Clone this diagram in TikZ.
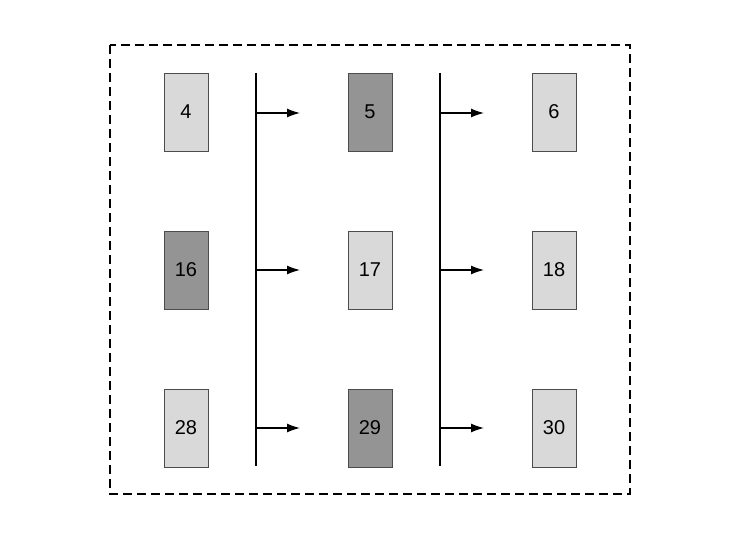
\documentclass[tikz,border=0pt]{standalone}
\usepackage{fontspec}
\setmainfont{Liberation Sans}
\usetikzlibrary{arrows.meta}
\begin{document}
\begin{tikzpicture}[x=1pt,y=-1pt,
  cell/.style={draw=black!70,line width=0.8pt,minimum width=44pt,minimum height=78pt,inner sep=0pt,font=\fontsize{20}{24}\selectfont},
  light/.style={cell,fill=black!15},
  dark/.style={cell,fill=black!42},
  arr/.style={-{Latex[length=13pt,width=9pt]},line width=1.3pt}]
\useasboundingbox (0,0) rectangle (740,540);
\draw[line width=1.5pt,dash pattern=on 9pt off 5pt] (110,45) rectangle (630,494);
\node[light] (n4) at (186,112) {4};
\node[dark] (n5) at (370,112) {5};
\node[light] (n6) at (554,112) {6};
\node[dark] (n16) at (186,270) {16};
\node[light] (n17) at (370,270) {17};
\node[light] (n18) at (554,270) {18};
\node[light] (n28) at (186,428) {28};
\node[dark] (n29) at (370,428) {29};
\node[light] (n30) at (554,428) {30};
\coordinate (l1t) at (256,73); \coordinate (l1b) at (256,466);
\coordinate (l2t) at (440,73); \coordinate (l2b) at (440,466);
\draw[line width=1.6pt] (l1t) -- (l1b);
\draw[line width=1.6pt] (l2t) -- (l2b);
\foreach \y/\n in {113/a,270/b,428/c}{
  \coordinate (s1\n) at (256,\y); \coordinate (e1\n) at (300,\y);
  \coordinate (s2\n) at (440,\y); \coordinate (e2\n) at (484,\y);
  \draw[arr] (s1\n) -- (e1\n);
  \draw[arr] (s2\n) -- (e2\n);
}
\end{tikzpicture}
\end{document}
